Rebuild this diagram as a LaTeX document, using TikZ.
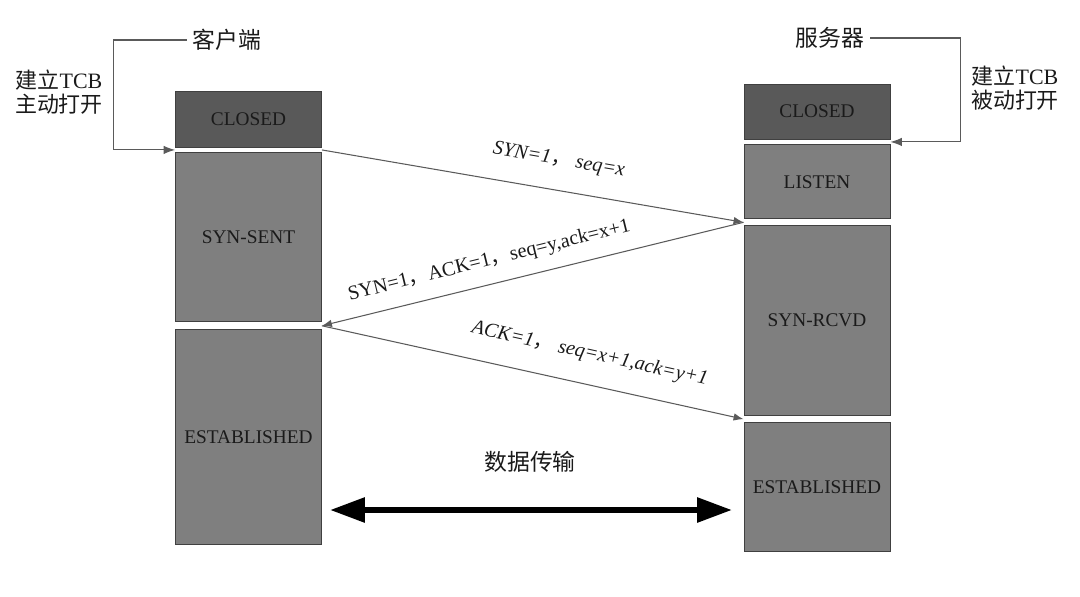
\documentclass[tikz,border=0pt]{standalone}
\usepackage{fontspec}
\setmainfont{Liberation Serif}
\newfontfamily\cjk{Noto Sans CJK SC}
\usetikzlibrary{arrows.meta,positioning,calc}
\definecolor{StateDark}{HTML}{595959}
\definecolor{StateGray}{HTML}{7F7F7F}
\definecolor{EdgeGray}{HTML}{404040}
\definecolor{LineGray}{HTML}{5A5A5A}
\definecolor{InkBlack}{HTML}{1A1A1A}

\begin{document}
\begin{tikzpicture}[x=0.02cm,y=-0.02cm,>={Latex[length=2mm,width=1.5mm]},node distance=1mm,
  state/.style={draw=EdgeGray,line width=0.5pt,minimum width=2.92cm,inner sep=0pt,text=InkBlack,font=\fontsize{11}{13}\selectfont},
  closedbox/.style={state,fill=StateDark},
  graybox/.style={state,fill=StateGray},
  msg/.style={draw=LineGray,line width=0.6pt},
  msglabel/.style={sloped,text=InkBlack,font=\fontsize{11.5}{14}\selectfont},
  bracket/.style={draw=LineGray,line width=0.6pt,-{Latex[length=2.3mm,width=1.7mm]}},
  cn/.style={text=InkBlack,font=\cjk\fontsize{13}{16}\selectfont},
  sidenote/.style={text=InkBlack,align=center,font=\fontsize{12.5}{14}\selectfont},
  datalink/.style={line width=3.4pt,{Triangle[length=7mm,width=4.8mm]}-{Triangle[length=7mm,width=4.8mm]}}]
\useasboundingbox (0,0) rectangle (1080,596);
% client column
\node[closedbox,minimum height=1.12cm] (lclosed) at (248.5,119) {CLOSED};
\node[graybox,minimum height=3.38cm,below=0.1cm of lclosed] (lsent) {SYN-SENT};
\node[graybox,minimum height=4.3cm,below=0.14cm of lsent] (lest) {ESTABLISHED};
% server column
\node[closedbox,minimum height=1.1cm] (rclosed) at (817,111.5) {CLOSED};
\node[graybox,minimum height=1.48cm,below=0.1cm of rclosed] (rlisten) {LISTEN};
\node[graybox,minimum height=3.8cm,below=0.12cm of rlisten] (rrcvd) {SYN-RCVD};
\node[graybox,minimum height=2.58cm,below=0.12cm of rrcvd] (rest) {ESTABLISHED};
% gaps between the states
\coordinate (lgap0) at ($(lclosed.south west)!.5!(lsent.north west)$);
\coordinate (lgap1) at ($(lclosed.south east)!.5!(lsent.north east)$);
\coordinate (lgap2) at ($(lsent.south east)!.5!(lest.north east)$);
\coordinate (rgap0) at ($(rclosed.south east)!.5!(rlisten.north east)$);
\coordinate (rgap1) at ($(rlisten.south west)!.5!(rrcvd.north west)$);
\coordinate (rgap2) at ($(rrcvd.south west)!.5!(rest.north west)$);
% titles
\node[cn] (client) at (227,40) {客户端};
\node[cn] (server) at (830,38) {服务器};
\node[sidenote] (activeopen) at (59,92) {{\cjk 建立}TCB\\{\cjk 主动打开}};
\node[sidenote] (passiveopen) at (1015,88) {{\cjk 建立}TCB\\{\cjk 被动打开}};
\draw[bracket] (client.west) -| ([xshift=-1.24cm]lgap0) -- (lgap0);
\draw[bracket] (server.east) -| ([xshift=1.4cm]rgap0) -- (rgap0);
% handshake
\draw[msg,->] (lgap1) -- node[msglabel,pos=.55,above=0.29cm] (syn) {\itshape SYN=1{\cjk ，} seq=x} (rgap1);
\draw[msg,<-] (lgap2) -- node[msglabel,pos=.41,above=0.15cm] (synack) {SYN=1{\cjk ，}ACK=1{\cjk ，}seq=y,ack=x+1} (rgap1);
\draw[msg,->] (lgap2) -- node[msglabel,pos=.62,above=0.29cm] (ack) {\itshape ACK=1{\cjk ，} seq=x+1,ack=y+1} (rgap2);
% data transfer
\node[cn] (data) at (530,462) {数据传输};
\coordinate (dleft) at (330,510);
\coordinate (dright) at (732,510);
\draw[datalink] (dleft) -- (dright);
\end{tikzpicture}
\end{document}
